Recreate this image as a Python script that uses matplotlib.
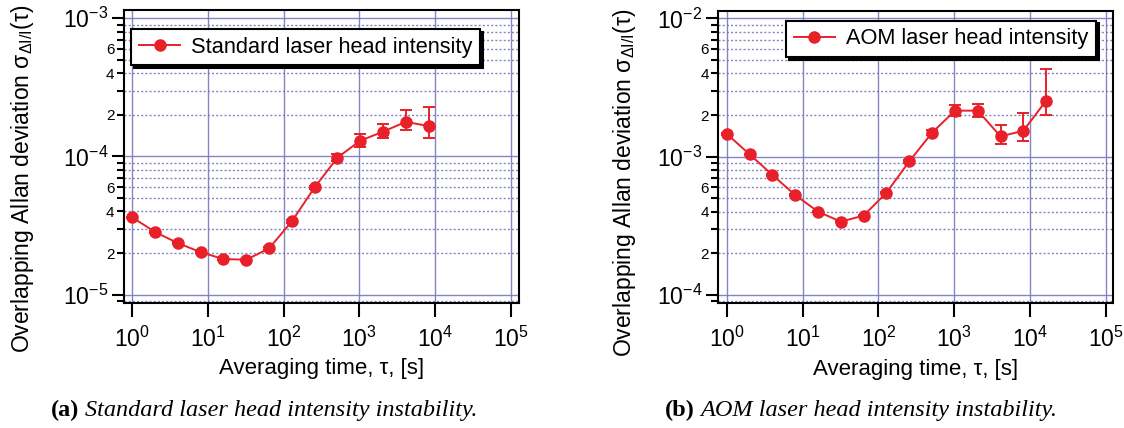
import numpy as np
import matplotlib
matplotlib.use('Agg')
import matplotlib.pyplot as plt
from matplotlib.ticker import LogLocator, LogFormatterMathtext, FuncFormatter, NullLocator

plt.rcParams['font.family'] = ['Liberation Sans', 'DejaVu Sans']
plt.rcParams['mathtext.default'] = 'regular'

# ---------------- data ----------------
tau_std = [1, 2, 4, 8, 16, 32, 64, 128, 256, 512, 1024, 2048, 4096, 8192]
std_dev = [3.62e-5, 2.84e-5, 2.36e-5, 2.03e-5, 1.81e-5, 1.79e-5, 2.16e-5,
           3.39e-5, 5.97e-5, 9.8e-5, 1.30e-4, 1.51e-4, 1.78e-4, 1.66e-4]
std_lo = [3.58e-5, 2.81e-5, 2.33e-5, 2.00e-5, 1.78e-5, 1.76e-5, 2.12e-5,
          3.32e-5, 5.80e-5, 9.3e-5, 1.18e-4, 1.37e-4, 1.56e-4, 1.37e-4]
std_hi = [3.66e-5, 2.87e-5, 2.39e-5, 2.06e-5, 1.84e-5, 1.82e-5, 2.20e-5,
          3.46e-5, 6.14e-5, 1.04e-4, 1.46e-4, 1.72e-4, 2.16e-4, 2.28e-4]

tau_aom = [1, 2, 4, 8, 16, 32, 64, 128, 256, 512, 1024, 2048, 4096, 8192, 16384]
aom_dev = [1.46e-3, 1.04e-3, 7.37e-4, 5.28e-4, 4.00e-4, 3.39e-4, 3.75e-4,
           5.49e-4, 9.25e-4, 1.49e-3, 2.15e-3, 2.15e-3, 1.40e-3, 1.54e-3, 2.54e-3]
aom_lo = [1.44e-3, 1.03e-3, 7.29e-4, 5.22e-4, 3.95e-4, 3.35e-4, 3.70e-4,
          5.42e-4, 9.10e-4, 1.43e-3, 1.97e-3, 1.95e-3, 1.23e-3, 1.30e-3, 2.00e-3]
aom_hi = [1.48e-3, 1.05e-3, 7.45e-4, 5.34e-4, 4.05e-4, 3.43e-4, 3.80e-4,
          5.56e-4, 9.40e-4, 1.55e-3, 2.36e-3, 2.39e-3, 1.69e-3, 2.08e-3, 4.31e-3]

RED = '#E8202A'
GRID = '#7878BE'

fig = plt.figure(figsize=(11.24, 4.28), dpi=100)
ax1 = fig.add_axes([0.1106, 0.2928, 0.3512, 0.6839])
ax2 = fig.add_axes([0.6391, 0.2914, 0.3514, 0.6836])


def minor_lab(v, pos):
    m = v / 10 ** np.floor(np.log10(v) + 1e-9)
    m = int(round(m))
    return str(m) if m in (2, 4, 6) else ''


def panel(ax, tau, dev, lo, hi, label, xlim, ylim, leg_anchor, leg_loc, ylab_xy):
    ax.set_xscale('log'); ax.set_yscale('log')
    ax.set_xlim(*xlim); ax.set_ylim(*ylim)

    dev = np.array(dev)
    yerr = [dev - np.array(lo), np.array(hi) - dev]
    ax.errorbar(tau, dev, yerr=yerr, fmt='none', ecolor=RED, elinewidth=1.4,
                capsize=4.3, capthick=1.4, zorder=3)
    ax.plot(tau, dev, '-o', color=RED, lw=1.4, ms=8, label=label, zorder=4)

    # axes / ticks
    ax.xaxis.set_major_locator(LogLocator(base=10, numticks=10))
    ax.xaxis.set_major_formatter(LogFormatterMathtext())
    ax.xaxis.set_minor_locator(NullLocator())
    ax.yaxis.set_major_locator(LogLocator(base=10, numticks=10))
    ax.yaxis.set_major_formatter(LogFormatterMathtext())
    ax.yaxis.set_minor_locator(LogLocator(base=10, subs=np.arange(2, 10), numticks=10))
    ax.yaxis.set_minor_formatter(FuncFormatter(minor_lab))
    ax.tick_params(axis='x', which='major', direction='out', length=10, width=1.5,
                   labelsize=16.5, pad=7)
    ax.tick_params(axis='y', which='major', direction='out', length=8.6, width=1.5,
                   labelsize=16.5, pad=3)
    ax.tick_params(axis='y', which='minor', direction='out', length=5, width=1.5,
                   labelsize=11, pad=2)
    for s in ax.spines.values():
        s.set_linewidth(1.5); s.set_color('black')

    # grid
    ax.grid(which='major', axis='both', color=GRID, lw=1.0, ls='-', alpha=0.9)
    ax.grid(which='minor', axis='y', color=GRID, lw=1.0, ls=(0, (1.5, 1.5)), alpha=0.9)
    ax.set_axisbelow(True)

    ax.set_xlabel('Averaging time, τ, [s]', fontsize=16, va='center')
    ax.xaxis.set_label_coords(0.5, -0.2265)
    ax.set_ylabel(r'Overlapping Allan deviation $\sigma_{\Delta I/I}(\tau)$', fontsize=16.5,
                  va='center')
    ax.yaxis.set_label_coords(*ylab_xy)

    leg = ax.legend(loc=leg_loc, bbox_to_anchor=leg_anchor, fontsize=15.7, frameon=True,
                    fancybox=False, edgecolor='black', framealpha=1, borderpad=0.35,
                    borderaxespad=0, handlelength=1.9, handletextpad=0.5,
                    shadow={'color': 'black', 'alpha': 1})
    leg.get_frame().set_linewidth(1.5)
    leg.set_zorder(10)


panel(ax1, tau_std, std_dev, std_lo, std_hi, 'Standard laser head intensity',
      (10 ** -0.106, 10 ** 5.11), (10 ** -5.058, 10 ** -2.94),
      (0.0175, 0.935), 'upper left', (-0.257, 0.423))
panel(ax2, tau_aom, aom_dev, aom_lo, aom_hi, 'AOM laser head intensity',
      (10 ** -0.111, 10 ** 5.1), (10 ** -4.06, 10 ** -1.945),
      (0.956, 0.966), 'upper right', (-0.237, 0.411))

# ---------------- captions ----------------
W = fig.get_figwidth() * fig.dpi


def caption(cx, cy, tag, body):
    t1 = fig.text(0, cy, tag, family='Liberation Serif', weight='bold', size=17.5, va='center')
    t2 = fig.text(0, cy, body, family='Liberation Serif', style='italic', size=17.5, va='center')
    r = fig.canvas.get_renderer()
    w1 = t1.get_window_extent(r).width
    w2 = t2.get_window_extent(r).width
    gap = 6
    x0 = cx - (w1 + gap + w2) / 2
    t1.set_x(x0 / W)
    t2.set_x((x0 + w1 + gap) / W)


caption(264, 0.04, '(a)', 'Standard laser head intensity instability.')
caption(861, 0.04, '(b)', 'AOM laser head intensity instability.')

fig.savefig('out.png', dpi=100, facecolor='white')
